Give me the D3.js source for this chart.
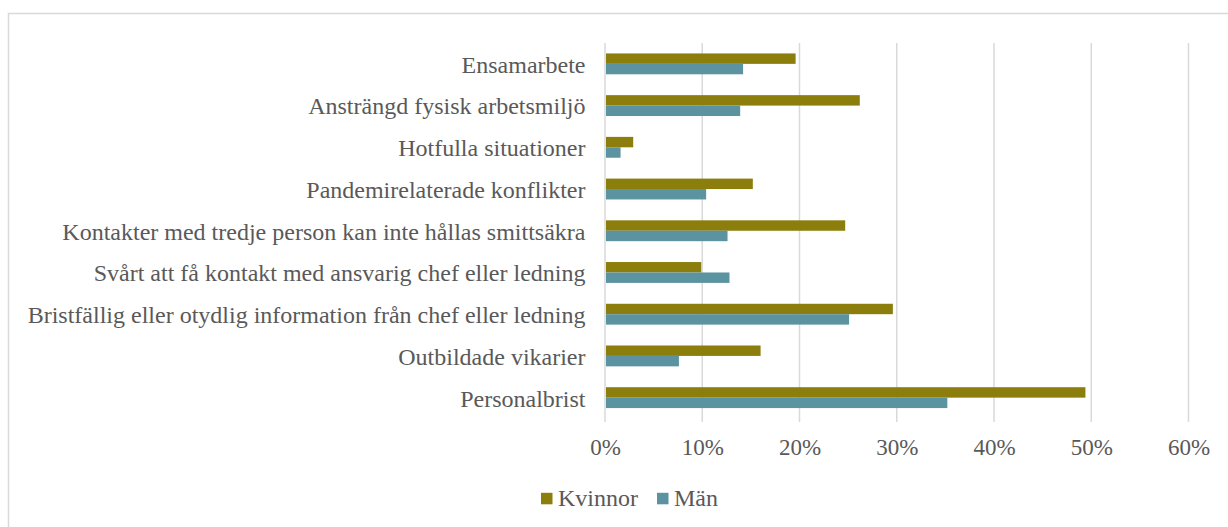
<!DOCTYPE html>
<html><head><meta charset="utf-8">
<script src="https://cdn.jsdelivr.net/npm/d3@7"></script>
</head><body style="margin:0">
<svg id="c" width="1228" height="527" font-family="Liberation Serif"></svg>
<script>
const categories = ["Ensamarbete","Ansträngd fysisk arbetsmiljö","Hotfulla situationer","Pandemirelaterade konflikter","Kontakter med tredje person kan inte hållas smittsäkra","Svårt att få kontakt med ansvarig chef eller ledning","Bristfällig eller otydlig information från chef eller ledning","Outbildade vikarier","Personalbrist"];
const kvinnor = [0.196,0.262,0.029,0.152,0.247,0.099,0.296,0.160,0.494];
const man = [0.142,0.139,0.016,0.104,0.126,0.128,0.251,0.076,0.352];
const seriesNames = ["Kvinnor","Män"];
const tickValues = [0,0.1,0.2,0.3,0.4,0.5,0.6];
const colors = ["#8b7e0c","#5b93a0"];

const FAM = "Liberation Serif";
const svg = d3.select("#c");
svg.append("rect").attr("x",8.5).attr("y",13.5).attr("width",1260).attr("height",600)
  .attr("fill","none").attr("stroke","#d9d9d9").attr("stroke-width",1.5);

const x = d3.scaleLinear().domain([0,0.6]).range([605,1188.5]);
const y = d3.scaleBand().domain(categories).range([43,418.5]).paddingInner(0.5).paddingOuter(0.25);
const sub = d3.scaleBand().domain(seriesNames).range([0,y.bandwidth()]);

svg.append("g").selectAll("line").data(tickValues).join("line")
  .attr("x1",d=>x(d)).attr("x2",d=>x(d)).attr("y1",43).attr("y2",422)
  .attr("stroke","#d9d9d9").attr("stroke-width",1.5);

const data = categories.map((c,i)=>({c, v:[kvinnor[i],man[i]]}));
const g = svg.append("g");
data.forEach(d=>{
  seriesNames.forEach((s,j)=>{
    g.append("rect").attr("x",x(0)+1).attr("y",y(d.c)+sub(s))
      .attr("width",x(d.v[j])-x(0)-1).attr("height",sub.bandwidth())
      .attr("fill",colors[j]);
  });
});

const yAxis = d3.axisLeft(y).tickSize(0).tickPadding(0);
const ya = svg.append("g").attr("transform","translate(585.5,0)").call(yAxis);
ya.attr("font-family",FAM).attr("font-size",24);
ya.select(".domain").remove();
ya.selectAll("text").attr("font-family",FAM).attr("font-size",24).attr("dy","0.37em").attr("fill","#595959");

const xAxis = d3.axisBottom(x).tickValues(tickValues).tickFormat(d3.format(".0%")).tickSize(0).tickPadding(0);
const xa = svg.append("g").attr("transform","translate(0,455)").call(xAxis);
xa.attr("font-family",FAM).attr("font-size",23);
xa.select(".domain").remove();
xa.selectAll("text").attr("font-family",FAM).attr("font-size",23).attr("dy",0).attr("fill","#595959");

const leg = svg.append("g").attr("font-family",FAM).attr("font-size",24);
const legX = [541,657];
seriesNames.forEach((s,j)=>{
  leg.append("rect").attr("x",legX[j]).attr("y",492.8).attr("width",11.5).attr("height",11.5).attr("fill",colors[j]);
  leg.append("text").attr("x",legX[j]+17).attr("y",506).text(s)
    .attr("font-family",FAM).attr("font-size",24).attr("fill","#595959");
});
</script></body></html>
